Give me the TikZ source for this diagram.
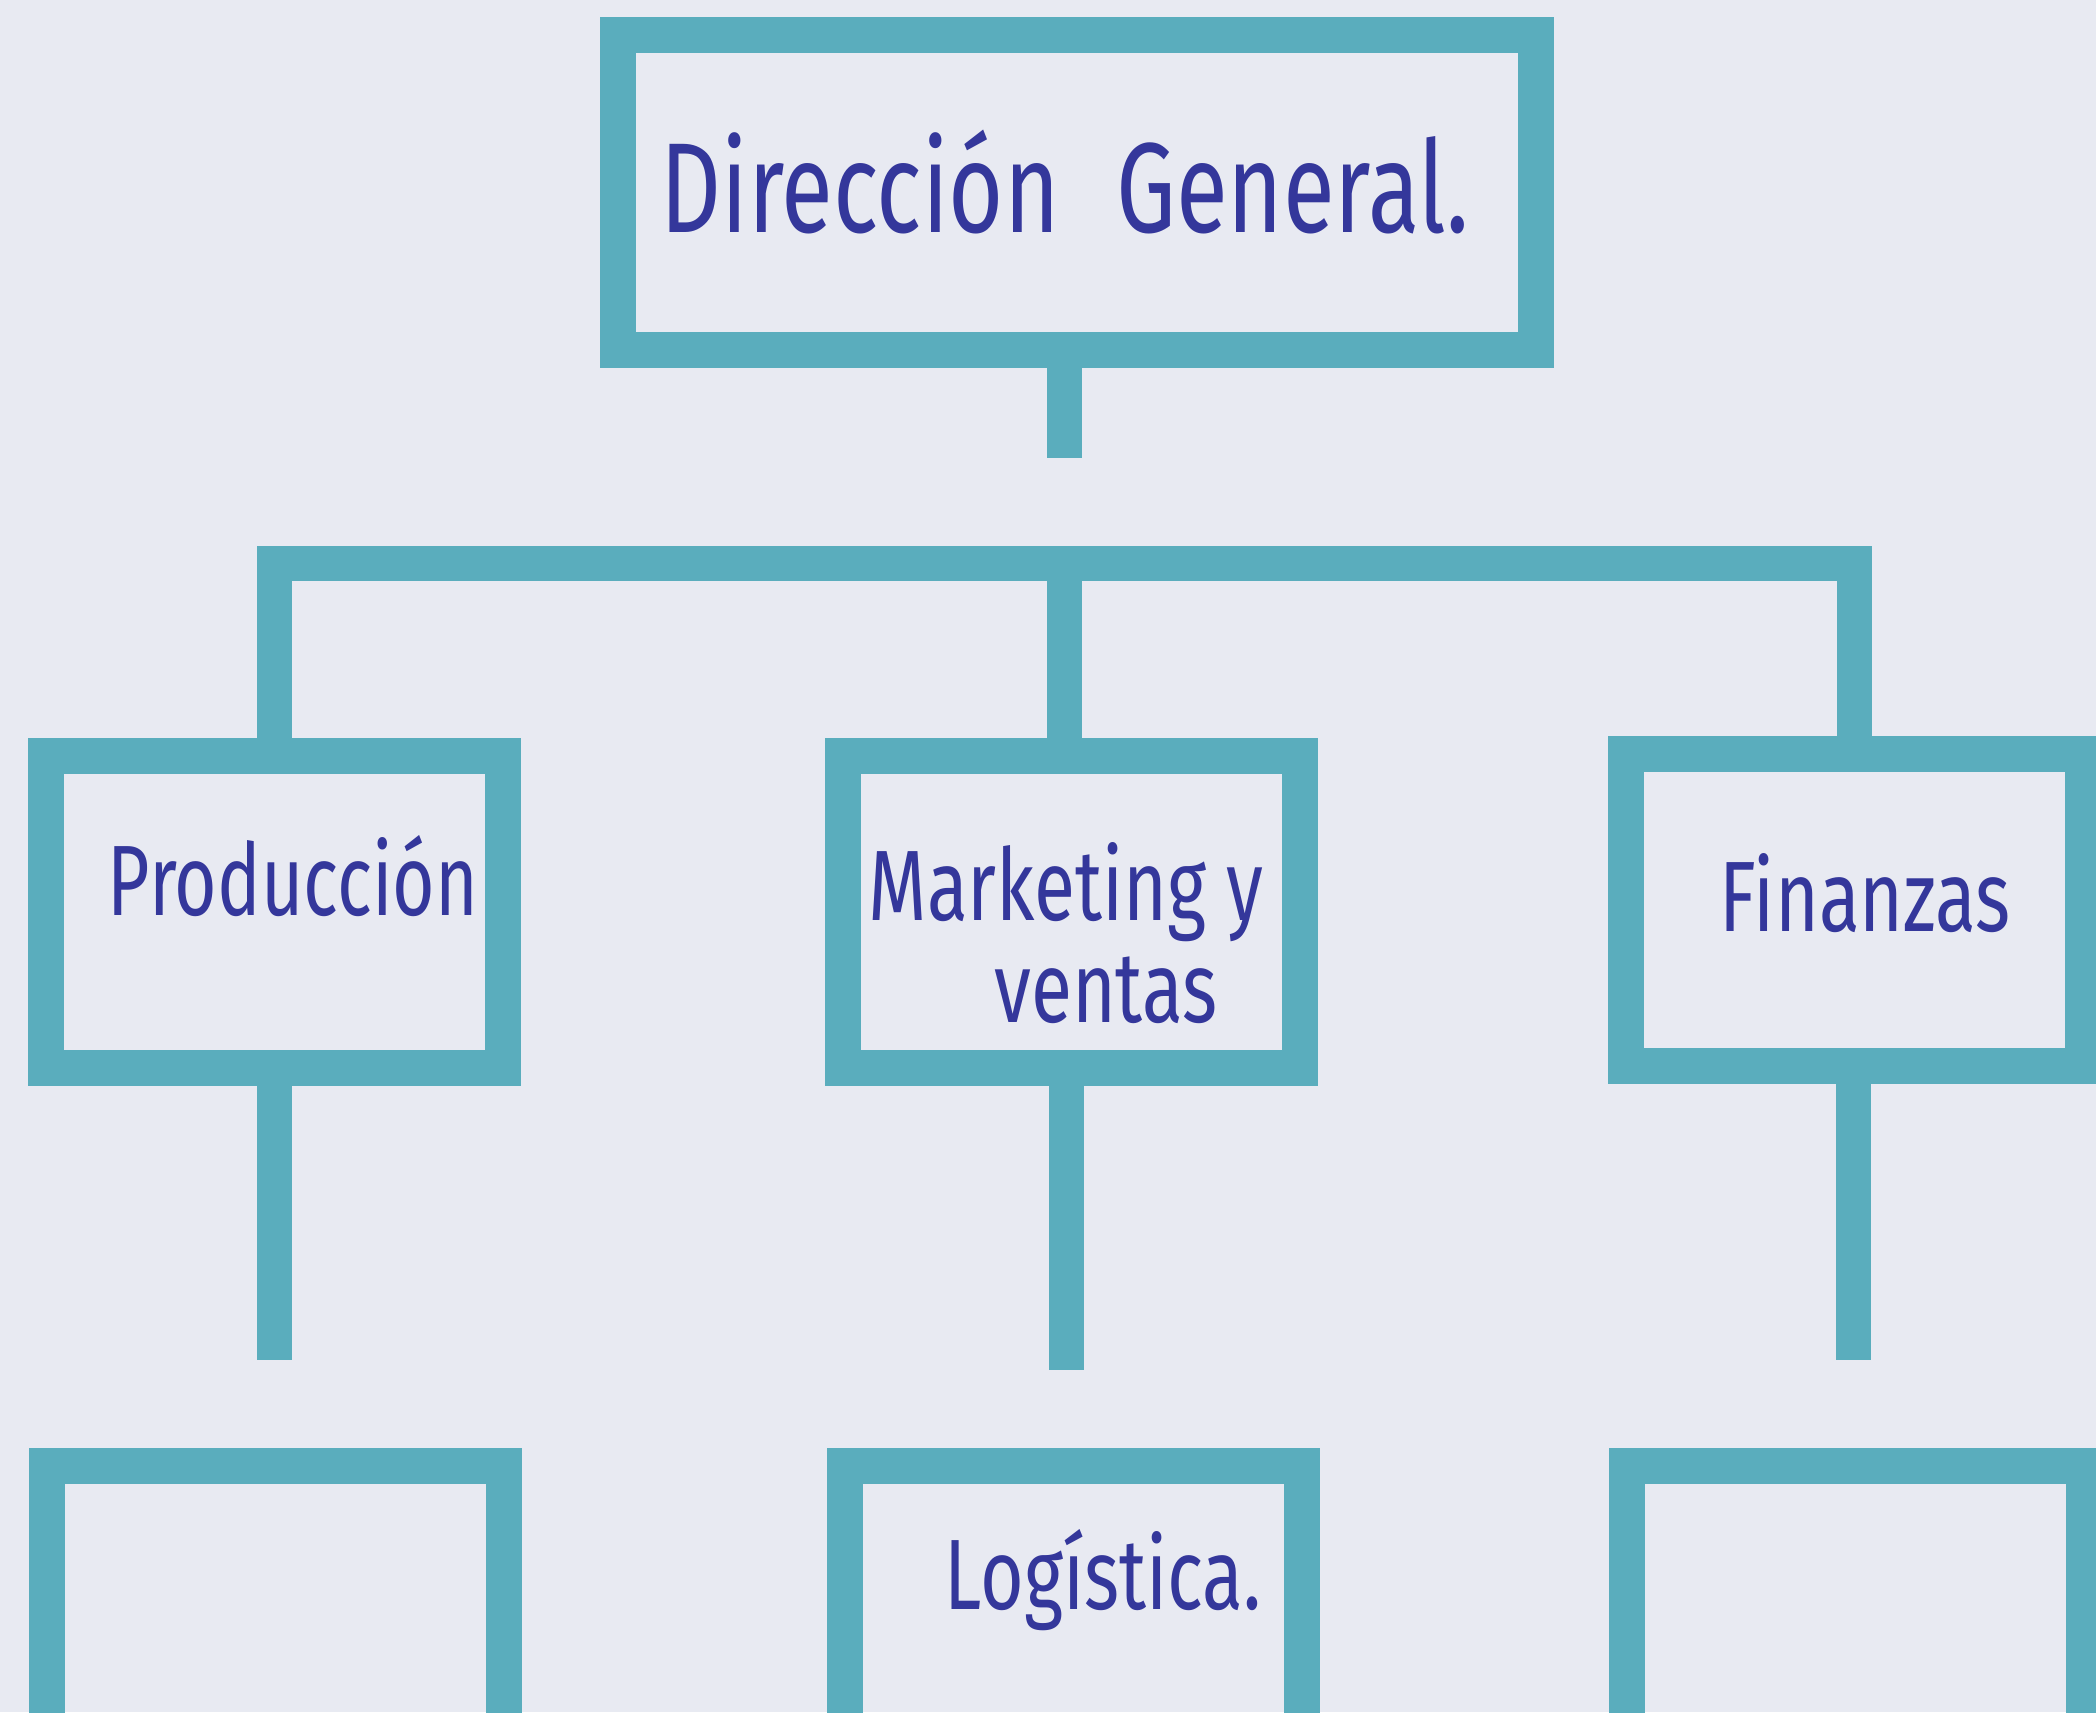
\documentclass[tikz,border=0pt]{standalone}
\usepackage{fontspec}
\setmainfont{Fira Sans}
\definecolor{paper}{RGB}{232,234,242}
\definecolor{boxteal}{RGB}{90,173,189}
\definecolor{ink}{RGB}{52,55,155}
\newcommand{\hwtext}[2]{\scalebox{#1}[1]{#2}}
\begin{document}
\begin{tikzpicture}[x=0.5pt,y=-0.5pt,
  orgbox/.style={draw=boxteal,line width=18pt,inner sep=0pt,outer sep=0pt,
     minimum width=228.5pt,minimum height=156pt,rectangle},
  topbox/.style={orgbox,minimum width=459pt,minimum height=157.5pt},
  conn/.style={draw=boxteal,line width=17.5pt,line cap=butt,line join=miter},
  hw/.style={text=ink,inner sep=0pt,font=\fontsize{50}{50}\selectfont},
  hwbig/.style={text=ink,inner sep=0pt,font=\fontsize{64}{64}\selectfont}]
\useasboundingbox (0,0) rectangle (2096,1712);
\clip (0,0) rectangle (2096,1712);
\fill[paper] (0,0) rectangle (2096,1712);

% boxes
\node[topbox] (top) at (1077,192.5) {};
\node[orgbox] (prod) at (274.5,912) {};
\node[orgbox] (mkt) at (1071.5,912) {};
\node[orgbox] (fin) at (1854.5,910) {};
\node[orgbox] (b1) at (275,1622) {};
\node[orgbox] (b2) at (1073,1622) {};
\node[orgbox] (b3) at (1855,1622) {};

% connectors
\coordinate (stemend) at (1064.5,458);
\coordinate (bar) at (0,563);
\draw[conn] (top.south -| stemend) -- (stemend);
\draw[conn] (prod.north) -- (prod.north |- bar) -- (fin.north |- bar) -- (fin.north);
\draw[conn] (bar -| stemend) -- (mkt.north -| stemend);
\coordinate (pe) at (275,1360);
\coordinate (me) at (1066,1370);
\coordinate (fe) at (1853,1360);
\draw[conn] (prod.south) -- (prod.south |- pe);
\draw[conn] (mkt.south -| me) -- (me);
\draw[conn] (fin.south -| fe) -- (fe);

% texts
\node[hwbig] (tdg) at (1065,182) {\hwtext{0.74}{Dirección\hspace{0.6em}General.}};
\node[hw] (tprod) at (293,876) {\hwtext{0.73}{Producción}};
\node[hw] (tmkt1) at (1066,892) {\hwtext{0.75}{Marketing y}};
\node[hw] (tmkt2) at (1106,990) {\hwtext{0.75}{ventas}};
\node[hw] (tfin) at (1865,893) {\hwtext{0.75}{Finanzas}};
\node[hw] (tlog) at (1103,1580) {\hwtext{0.75}{Logística.}};
\end{tikzpicture}
\end{document}
